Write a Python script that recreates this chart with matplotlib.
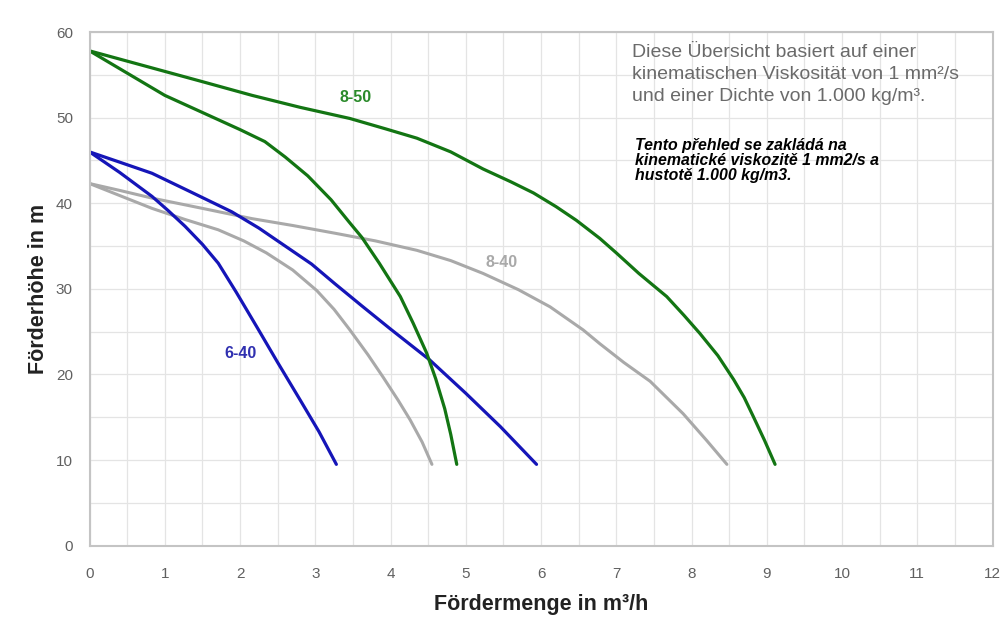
"""Pump curves (Förderhöhe vs. Fördermenge) for the 6-40, 8-40 and 8-50 pumps."""
import matplotlib
matplotlib.use("Agg")
import matplotlib.pyplot as plt
from matplotlib.ticker import MultipleLocator

# values (flow in m3/h, head in m)
q_850_a = [0, 0.5, 1.0, 1.5, 2.0, 2.33, 2.6, 2.9, 3.21, 3.45, 3.62, 3.85,
           4.13, 4.3, 4.48, 4.6, 4.72, 4.8, 4.88]
h_850_a = [57.8, 55.2, 52.6, 50.6, 48.6, 47.2, 45.4, 43.2, 40.4, 37.8, 36.0,
           33.0, 29.1, 26.0, 22.5, 19.5, 16.0, 13.0, 9.5]
q_850_b = [0, 0.5, 1.0, 1.5, 2.16, 2.8, 3.46, 3.93, 4.35, 4.8, 5.23, 5.6,
           5.9, 6.2, 6.47, 6.78, 7.0, 7.3, 7.67, 7.9, 8.11, 8.35, 8.56, 8.7,
           8.82, 8.97, 9.11]
h_850_b = [57.8, 56.6, 55.4, 54.2, 52.6, 51.2, 49.9, 48.7, 47.6, 46.0, 44.0,
           42.5, 41.2, 39.6, 38.0, 35.9, 34.2, 31.8, 29.1, 26.9, 24.8, 22.2,
           19.4, 17.3, 15.1, 12.3, 9.5]

q_640_a = [0, 0.4, 0.83, 1.05, 1.27, 1.5, 1.71, 1.95, 2.24, 2.5, 2.8, 3.05, 3.28]
h_640_a = [46.0, 43.6, 40.8, 39.1, 37.3, 35.2, 33.0, 29.6, 25.3, 21.4, 17.0,
           13.3, 9.5]
q_640_b = [0, 0.4, 0.83, 1.35, 1.89, 2.25, 2.6, 2.95, 3.26, 3.62, 4.0, 4.52,
           5.0, 5.46, 5.94]
h_640_b = [46.0, 44.8, 43.5, 41.3, 39.0, 37.1, 35.0, 32.9, 30.6, 28.0, 25.3,
           21.7, 17.8, 13.9, 9.5]

q_840_a = [0, 0.4, 0.83, 1.5, 2.16, 2.7, 3.26, 3.8, 4.35, 4.8, 5.23, 5.7,
           6.12, 6.56, 6.78, 7.1, 7.45, 7.89, 8.2, 8.47]
h_840_a = [42.3, 41.5, 40.6, 39.4, 38.2, 37.4, 36.5, 35.6, 34.5, 33.3, 31.8,
           29.9, 27.9, 25.2, 23.6, 21.4, 19.2, 15.4, 12.3, 9.5]
q_840_b = [0, 0.4, 0.83, 1.27, 1.71, 2.05, 2.35, 2.7, 3.02, 3.25, 3.46, 3.7,
           3.9, 4.1, 4.26, 4.42, 4.55]
h_840_b = [42.3, 40.9, 39.4, 38.1, 36.9, 35.6, 34.2, 32.2, 29.8, 27.6, 25.2,
           22.3, 19.7, 17.0, 14.7, 12.1, 9.5]

GREEN = "#137513"
BLUE = "#1515b8"
GREY = "#a9a9a9"

plt.rcParams["font.family"] = ["Liberation Sans", "DejaVu Sans"]

fig = plt.figure(figsize=(10.05, 6.17), dpi=100)
ax = fig.add_axes([0.0891, 0.1156, 0.8985, 0.8325])

line_kw = dict(solid_capstyle="round", solid_joinstyle="round")
ax.plot(q_840_a, h_840_a, color=GREY, lw=2.2, **line_kw)
ax.plot(q_840_b, h_840_b, color=GREY, lw=2.2, **line_kw)
ax.plot(q_640_a, h_640_a, color=BLUE, lw=2.3, **line_kw)
ax.plot(q_640_b, h_640_b, color=BLUE, lw=2.3, **line_kw)
ax.plot(q_850_a, h_850_a, color=GREEN, lw=2.3, **line_kw)
ax.plot(q_850_b, h_850_b, color=GREEN, lw=2.3, **line_kw)

ax.text(3.53, 52.4, "8-50", color="#2a8a2a", fontsize=11.5, fontweight="bold",
        ha="center", va="center")
ax.text(5.48, 33.1, "8-40", color="#a9a9a9", fontsize=11.5, fontweight="bold",
        ha="center", va="center")
ax.text(2.0, 22.5, "6-40", color="#3030b0", fontsize=11.5, fontweight="bold",
        ha="center", va="center")

ax.text(7.21, 58.6,
        "Diese Übersicht basiert auf einer\n"
        "kinematischen Viskosität von 1 mm²/s\n"
        "und einer Dichte von 1.000 kg/m³.",
        color="#6a6a6a", fontsize=14, ha="left", va="top", linespacing=1.4)
ax.text(7.25, 47.6,
        "Tento přehled se zakládá na\n"
        "kinematické viskozitě 1 mm2/s a\n"
        "hustotě 1.000 kg/m3.",
        color="black", fontsize=11.4, fontweight="bold", fontstyle="italic",
        ha="left", va="top", linespacing=1.0)

ax.set_xlim(0, 12)
ax.set_ylim(0, 60)
ax.xaxis.set_major_locator(MultipleLocator(1))
ax.xaxis.set_minor_locator(MultipleLocator(0.5))
ax.yaxis.set_major_locator(MultipleLocator(10))
ax.yaxis.set_minor_locator(MultipleLocator(5))
ax.grid(which="both", color="#e4e4e4", lw=0.9)
ax.set_axisbelow(True)
ax.tick_params(which="both", length=0)
ax.tick_params(axis="x", pad=15, labelsize=11, labelcolor="#606060")
ax.tick_params(axis="y", pad=12, labelsize=11, labelcolor="#606060")

for spine in ax.spines.values():
    spine.set_color("#c4c4c4")
    spine.set_linewidth(1.5)

ax.set_xlabel("Fördermenge in m³/h", fontsize=15.5, fontweight="bold",
              color="#222222", labelpad=10)
ax.set_ylabel("Förderhöhe in m", fontsize=15.5, fontweight="bold",
              color="#222222", labelpad=5)

fig.savefig("out.png", dpi=100, facecolor="white")
